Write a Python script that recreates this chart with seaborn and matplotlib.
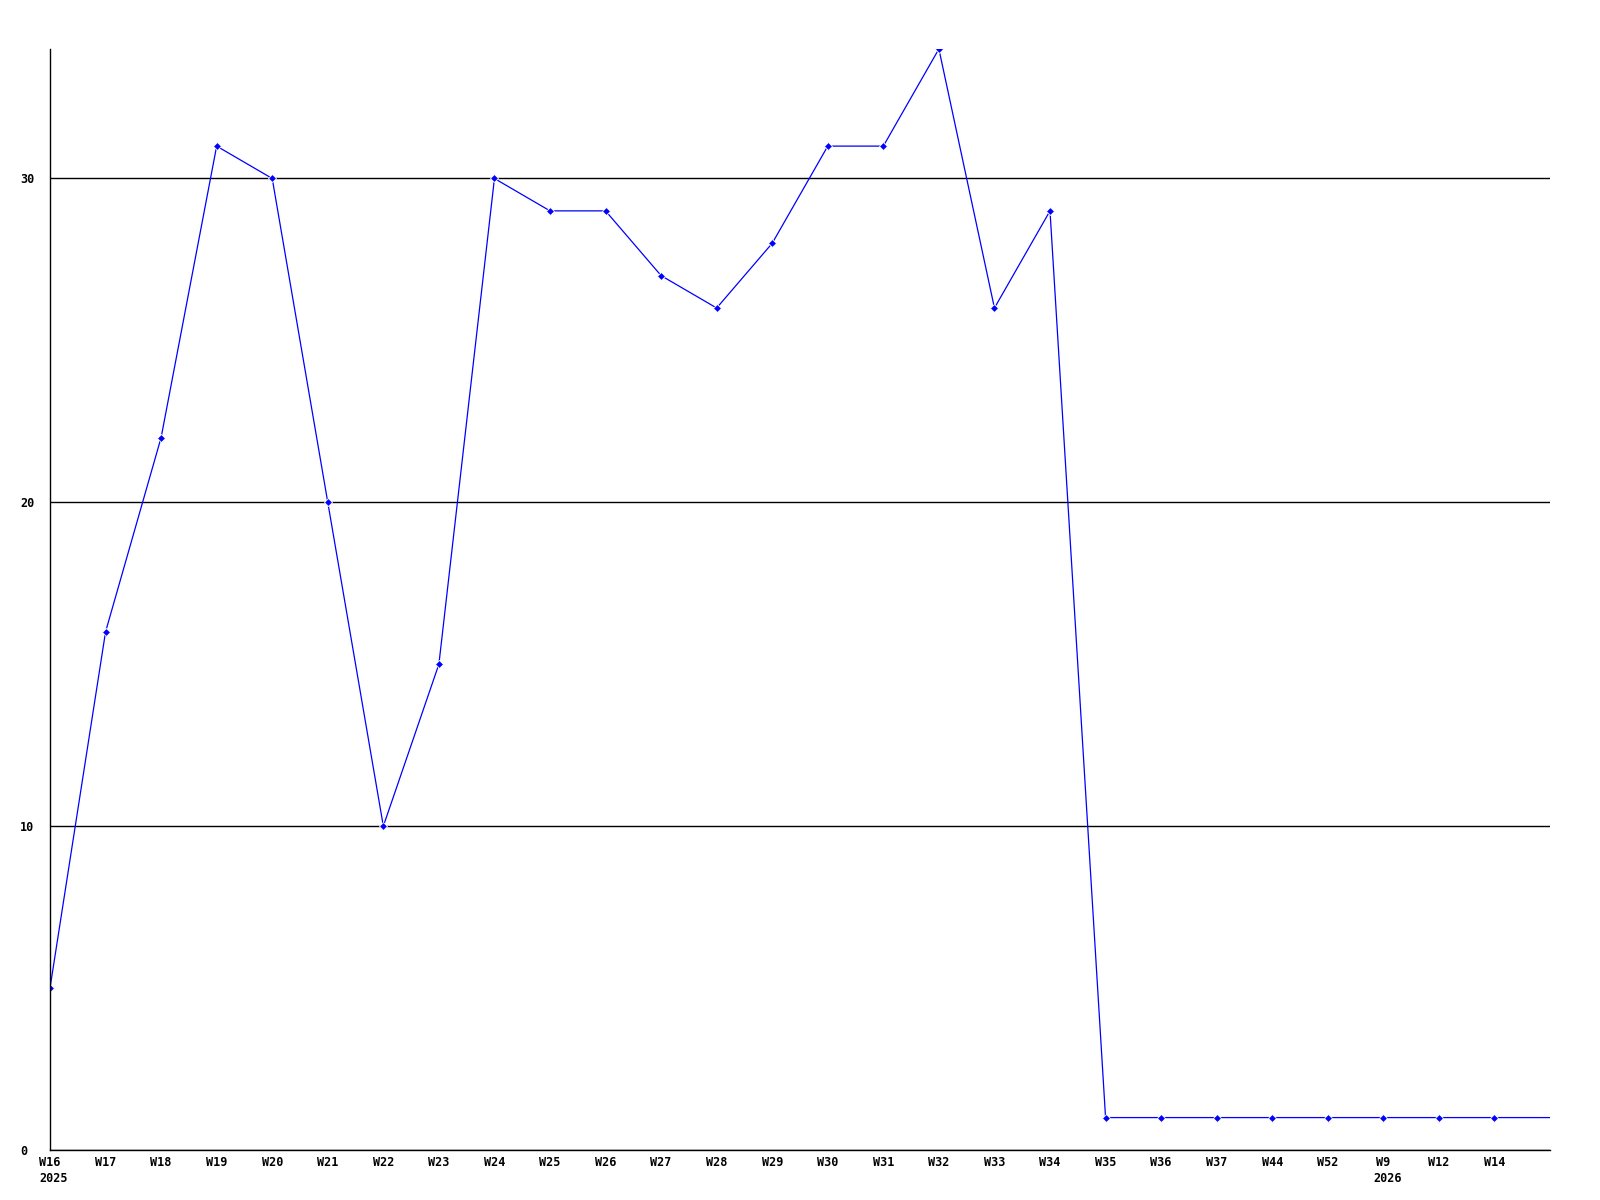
# weekly counts line chart
import matplotlib
matplotlib.use('Agg')

import matplotlib.pyplot as plt
import seaborn as sns
import pandas as pd
import numpy as np

weeks = ["W16", "W17", "W18", "W19", "W20", "W21", "W22", "W23", "W24", "W25",
         "W26", "W27", "W28", "W29", "W30", "W31", "W32", "W33", "W34", "W35",
         "W36", "W37", "W44", "W52", "W9", "W12", "W14", ""]
counts = [5, 16, 22, 31, 30, 20, 10, 15, 30, 29,
          29, 27, 26, 28, 31, 31, 34, 26, 29, 1,
          1, 1, 1, 1, 1, 1, 1, 1]
years = {"W16": "2025", "W9": "2026"}
y_ticks = [0, 10, 20, 30]

sns.set_theme(style="white")
plt.rcParams['font.family'] = ['DejaVu Sans Mono']
plt.rcParams['text.color'] = 'black'
plt.rcParams['xtick.color'] = 'black'
plt.rcParams['ytick.color'] = 'black'

df = pd.DataFrame({"pos": np.arange(len(weeks)), "week": weeks, "count": counts})

fig = plt.figure(figsize=(16, 12), dpi=100)
ax = fig.add_axes([0.03125, 0.0417, 0.9375, 0.9175])

sns.lineplot(ax=ax, data=df, x="pos", y="count", color="#0000ff", linewidth=0.9,
             marker="D", markersize=3.6, markeredgewidth=0.6,
             markevery=list(range(len(weeks) - 1)))

ax.set_xlim(0, len(weeks) - 1)
ax.set_ylim(0, 34)
ax.set_xticks(df["pos"])
ax.set_xticklabels(weeks, fontsize=8.5, fontweight='bold', color='black')
ax.set_yticks(y_ticks)
ax.set_yticklabels([str(v) for v in y_ticks], fontsize=8.5, fontweight='bold',
                   ha='left', color='black')
ax.tick_params(axis='x', length=0, pad=4)
ax.tick_params(axis='y', length=0, pad=21.5)
ax.set_xlabel("")
ax.set_ylabel("")

ax.grid(axis='y', color='black', linewidth=1.0)
ax.grid(axis='x', visible=False)
for side in ["top", "right"]:
    ax.spines[side].set_visible(False)
for side in ["left", "bottom"]:
    ax.spines[side].set_color("black")
    ax.spines[side].set_linewidth(1.0)

for i, w in enumerate(weeks):
    if w in years:
        ax.annotate(years[w], xy=(i, 0), xycoords=('data', 'axes fraction'),
                    xytext=(-7.5, -16), textcoords='offset points',
                    ha='left', va='top', fontsize=8.5, fontweight='bold', color='black')

fig.savefig("out.png", dpi=100)
